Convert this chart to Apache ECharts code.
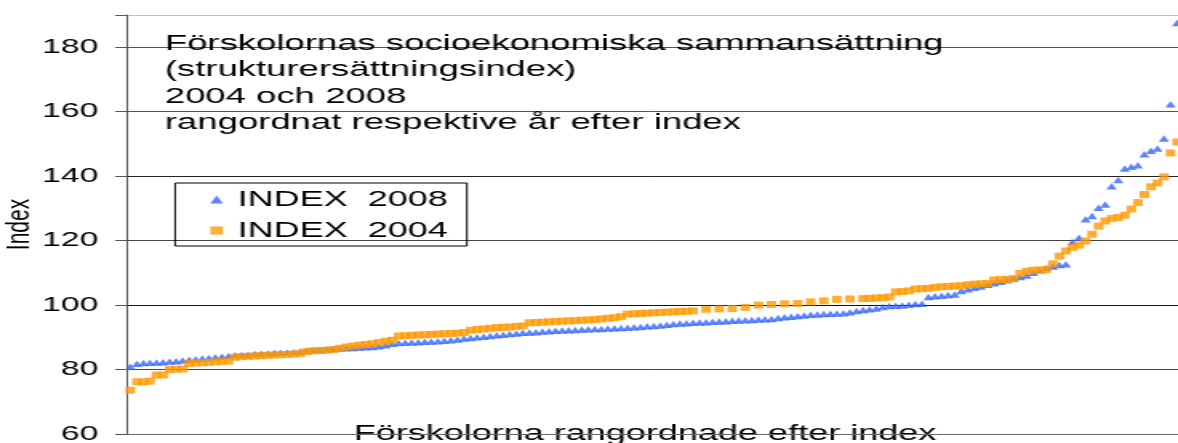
<!DOCTYPE html>
<html>
<head>
<meta charset="utf-8">
<script src="https://cdn.jsdelivr.net/npm/echarts@6/dist/echarts.min.js"></script>
<style>
  html, body { margin: 0; padding: 0; background: #fff; overflow: hidden; }
  /* the original picture is stretched sideways, so draw narrow and widen */
  #main { width: 736px; height: 443px; transform: scaleX(1.6005); transform-origin: 0 0; }
</style>
</head>
<body>
<div id="main"></div>
<script>
'use strict'
// rank of each preschool (1..161)
var ranks = []
for (var r = 1; r <= 161; r++) ranks.push(r)

var yTicks = [60, 80, 100, 120, 140, 160, 180]

var index2008 = [
  80.9, 81.8, 82.0, 82.1, 82.2, 82.3, 82.5, 82.6, 82.8, 83.0,
  83.2, 83.4, 83.6, 83.8, 84.0, 84.2, 84.4, 84.5, 84.6, 84.8,
  84.9, 85.0, 85.1, 85.2, 85.3, 85.4, 85.6, 85.8, 86.0, 86.1,
  86.3, 86.4, 86.5, 86.6, 86.7, 86.8, 86.9, 87.0, 87.2, 87.5,
  88.0, 88.2, 88.3, 88.4, 88.5, 88.6, 88.7, 88.8, 88.9, 89.1,
  89.3, 89.6, 89.8, 90.0, 90.2, 90.4, 90.6, 90.8, 91.0, 91.2,
  91.4, 91.5, 91.6, 91.8, 91.9, 92.0, 92.1, 92.2, 92.3, 92.4,
  92.5, 92.6, 92.6, 92.7, 92.8, 92.9, 93.0, 93.1, 93.2, 93.4,
  93.5, 93.7, 93.9, 94.1, 94.3, 94.4, 94.5, 94.6, 94.7, 94.8,
  94.9, 95.0, 95.1, 95.2, 95.3, 95.4, 95.5, 95.6, 95.7, 96.0,
  96.2, 96.4, 96.6, 96.8, 97.0, 97.1, 97.2, 97.3, 97.4, 97.5,
  97.8, 98.2, 98.5, 98.7, 98.9, 99.4, 99.7, 99.8, 99.9, 100.1,
  100.3, 100.4, 102.5, 102.7, 102.9, 103.1, 103.3, 104.4, 104.9, 105.4,
  105.8, 106.3, 106.8, 107.2, 107.7, 108.2, 108.7, 109.2, 110.0, 110.8,
  111.5, 112.0, 112.4, 112.7,
  119.6, 120.9, 126.6, 127.6, 130.2, 131.2, 136.9, 138.8, 142.4, 142.9,
  143.4, 146.8, 147.9, 148.6, 151.7, 162.3, 187.5
]

var index2004 = [
  73.6, 76.2, 76.2, 76.4, 78.3, 78.3, 80.0, 80.1, 80.2, 81.9,
  82.0, 82.1, 82.2, 82.4, 82.5, 82.6, 83.8, 84.0, 84.1, 84.2,
  84.3, 84.4, 84.5, 84.6, 84.7, 84.8, 85.0, 85.6, 85.8, 85.9,
  86.0, 86.2, 86.6, 87.0, 87.3, 87.6, 87.8, 88.0, 88.4, 88.8,
  89.1, 90.4, 90.5, 90.6, 90.7, 90.8, 90.9, 91.0, 91.1, 91.2,
  91.3, 91.5, 92.2, 92.4, 92.6, 92.8, 93.0, 93.1, 93.2, 93.4,
  93.5, 94.5, 94.6, 94.7, 94.8, 94.9, 95.0, 95.1, 95.2, 95.3,
  95.4, 95.5, 95.7, 95.9, 96.1, 96.4, 97.2, 97.3, 97.4, 97.5,
  97.6, 97.7, 97.8, 97.9, 98.0, 98.1, 98.2, null, 98.7, null,
  98.8, null, 98.9, null, 99.3, null, 100.0, null, 100.2, null,
  100.4, null, 100.5, null, 101.0, null, 101.3, null, 101.8, null,
  101.9, null, 102.0, 102.1, 102.2, 102.3, 102.5, 104.1, 104.2, 104.4,
  105.0, 105.1, 105.2, 105.5, 105.7, 105.8, 105.9, 106.0, 106.3, 106.5,
  106.6, 106.7, 107.8, 107.9, 108.0, 108.2, 109.8, 110.5, 110.8, 110.9,
  111.0, 112.8,
  115.2, 116.8, 117.9, 118.6, 119.9, 122.0, 124.5, 126.1, 126.9, 127.2,
  127.9, 129.8, 131.8, 134.3, 136.7, 137.9, 139.8, 147.2, 150.6
]

var FONT = '"Liberation Sans", Arial, sans-serif'
var BLUE = '#3366ff'
var ORANGE = '#ff9900'

var myChart = echarts.init(document.getElementById('main'))

var option = {
  animation: false,
  textStyle: { fontFamily: FONT, color: '#000' },
  title: {
    text: 'Förskolornas socioekonomiska sammansättning\n(strukturersättningsindex)\n2004 och 2008\nrangordnat respektive år efter index',
    left: 103,
    top: 30,
    padding: 0,
    textStyle: { fontFamily: FONT, fontSize: 22.8, fontWeight: 'normal', color: '#000', lineHeight: 26.5 }
  },
  legend: {
    orient: 'vertical',
    left: 109.4,
    top: 183,
    padding: [5, 12, 4, 22],
    itemGap: 8,
    itemWidth: 8,
    itemHeight: 8,
    borderColor: '#000',
    borderWidth: 1,
    textStyle: { fontFamily: FONT, fontSize: 22.5, color: '#000', padding: [0, 0, 0, 4] },
    data: [
      { name: 'INDEX  2008', icon: 'triangle' },
      { name: 'INDEX  2004', icon: 'rect' }
    ]
  },
  grid: { left: 79.4, right: -1.5, top: 15, bottom: 9, outerBoundsMode: 'none', containLabel: false },
  xAxis: {
    type: 'category',
    data: ranks,
    boundaryGap: true,
    name: 'Förskolorna rangordnade efter index',
    nameLocation: 'middle',
    nameGap: -12,
    nameMoveOverlap: false,
    nameTextStyle: { fontFamily: FONT, fontSize: 22.5, color: '#000', padding: [0, 11, 0, 0] },
    axisLine: { lineStyle: { color: '#666', width: 1 } },
    axisTick: { show: false },
    axisLabel: { show: false },
    splitLine: { show: false }
  },
  yAxis: {
    type: 'value',
    min: 60,
    max: 190,
    interval: 20,
    name: 'Index',
    nameLocation: 'middle',
    nameGap: 57,
    nameRotate: 90,
    nameMoveOverlap: false,
    nameTextStyle: { fontFamily: FONT, fontSize: 21, color: '#000' },
    axisLine: { show: true, lineStyle: { color: '#555', width: 1 } },
    axisTick: { show: true, length: 7.5, lineStyle: { color: '#555' } },
    axisLabel: {
      margin: 18,
      fontFamily: FONT,
      fontSize: 21,
      color: '#000',
      formatter: function (v) { return yTicks.indexOf(v) >= 0 ? String(v) : '' }
    },
    splitLine: {
      show: true,
      lineStyle: { color: ['#666', '#444', '#111', '#444', '#222', '#555', '#555', '#c0c0c0'], width: 1 }
    }
  },
  series: [
    {
      name: 'INDEX  2008',
      type: 'scatter',
      data: index2008,
      symbol: 'triangle',
      symbolSize: [6.5, 6.5],
      itemStyle: { color: BLUE }
    },
    {
      name: 'INDEX  2004',
      type: 'scatter',
      data: index2004,
      symbol: 'rect',
      symbolSize: [6, 7],
      itemStyle: { color: ORANGE }
    }
  ]
}
myChart.setOption(option)
</script>
</body>
</html>
